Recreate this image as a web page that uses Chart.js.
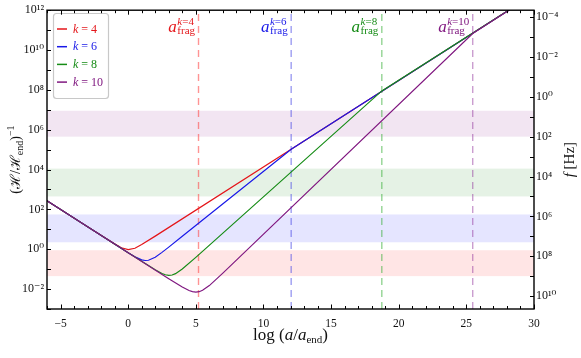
<!DOCTYPE html>
<html>
<head>
<meta charset="utf-8">
<script src="https://cdn.jsdelivr.net/npm/chart.js@4.4.1/dist/chart.umd.min.js"></script>
<style>
  html, body { margin: 0; padding: 0; background: #fff; }
</style>
</head>
<body>
<canvas id="fragChart" width="581" height="358"></canvas>
<script>
// values
const kValues = [4, 6, 8, 10];

const xK4 = [-6, -3, -1, -0.5, 0, 0.5, 1, 2, 12.05, 30];
const yK4 = [269, 13.4, 1.86, 1.19, 0.955, 1.12, 1.71, 4.55, 1.05e5, 6.46e12];

const xK6 = [-6, -3, -1, 0, 0.5, 1, 1.25, 1.5, 2, 2.5, 3, 4, 12.05, 30];
const yK6 = [269, 13.4, 1.82, 0.674, 0.422, 0.294, 0.272, 0.280, 0.398, 0.697, 1.28, 4.46, 1.05e5, 6.46e12];

const xK8 = [-6, -3, 0, 1, 2, 2.5, 2.75, 3, 3.25, 3.5, 4, 5, 18.75, 30];
const yK8 = [269, 13.4, 0.670, 0.248, 0.0927, 0.0607, 0.0522, 0.0489, 0.0509, 0.0593, 0.101, 0.390, 8.91e7, 6.46e12];

const xK10 = [-6, -3, 0, 3, 4, 4.5, 4.75, 5, 5.25, 5.5, 6, 7, 25.47, 30];
const yK10 = [269, 13.4, 0.670, 0.0334, 0.0127, 0.00847, 0.00740, 0.00701, 0.00738, 0.00867, 0.0150, 0.0630, 6.76e10, 6.46e12];

// a_frag positions (log a/a_end) and frequency bands (Hz)
const fragX = [5.2, 12.05, 18.75, 25.47];
const bandLowHz = [5e7, 8e5, 4e3, 5];
const bandHighHz = [1e9, 2e7, 1e5, 100];

// axes
const xRange = [-6, 30];
const hubbleRange = [1e-3, 1e12];
const freqRange = [4.47e-5, 4.47e10];
const hubbleTickExp = [-3, -2, -1, 0, 1, 2, 3, 4, 5, 6, 7, 8, 9, 10, 11, 12];
const freqTickExp = [-4, -3, -2, -1, 0, 1, 2, 3, 4, 5, 6, 7, 8, 9, 10];

const SERIF = "'Liberation Serif', 'DejaVu Serif', serif";
const lineColors = ["rgb(228,22,26)", "rgb(24,24,232)", "rgb(22,140,22)", "rgb(128,24,128)"];
const dashColors = ["rgba(255,60,60,0.55)", "rgba(60,60,230,0.5)", "rgba(40,170,40,0.5)", "rgba(140,40,150,0.45)"];
const bandColors = ["rgba(255,0,0,0.1)", "rgba(0,0,255,0.1)", "rgba(0,128,0,0.1)", "rgba(128,0,128,0.1)"];

const SUP = { "-": "⁻", "0": "⁰", "1": "¹", "2": "²", "3": "³", "4": "⁴", "5": "⁵", "6": "⁶", "7": "⁷", "8": "⁸", "9": "⁹" };

function powLabel(value) {
  const e = Math.round(Math.log10(value));
  if (e % 2 !== 0) return "";
  return "10" + String(e).split("").map(c => SUP[c]).join("");
}

function toPoints(xs, ys) {
  return xs.map((x, i) => ({ x: x, y: ys[i] }));
}

function measureRich(ctx, parts) {
  let total = 0;
  parts.forEach(p => {
    ctx.font = p.font;
    p.w = ctx.measureText(p.t).width;
    total += p.w;
  });
  return total;
}

function drawRich(ctx, parts, x, y, align) {
  const total = measureRich(ctx, parts);
  let cx = align === "center" ? x - total / 2 : align === "right" ? x - total : x;
  parts.forEach(p => {
    ctx.font = p.font;
    ctx.fillText(p.t, cx, y + (p.dy || 0));
    cx += p.w;
  });
  return total;
}

const bandsPlugin = {
  id: "bands",
  beforeDatasetsDraw(chart) {
    const { ctx, chartArea: a, scales } = chart;
    ctx.save();
    ctx.beginPath();
    ctx.rect(a.left, a.top, a.right - a.left, a.bottom - a.top);
    ctx.clip();

    bandLowHz.forEach((lo, i) => {
      const y1 = scales.yf.getPixelForValue(lo);
      const y2 = scales.yf.getPixelForValue(bandHighHz[i]);
      ctx.fillStyle = bandColors[i];
      ctx.fillRect(a.left, Math.min(y1, y2), a.right - a.left, Math.abs(y2 - y1));
    });

    ctx.lineWidth = 1.4;
    ctx.setLineDash([7, 5]);
    fragX.forEach((fx, i) => {
      const px = scales.x.getPixelForValue(fx);
      ctx.strokeStyle = dashColors[i];
      ctx.beginPath();
      ctx.moveTo(px, a.bottom);
      ctx.lineTo(px, a.top);
      ctx.stroke();
    });
    ctx.setLineDash([]);

    // a_frag^{k=..} labels
    ctx.textBaseline = "alphabetic";
    fragX.forEach((fx, i) => {
      const px = scales.x.getPixelForValue(fx);
      const supParts = [
        { t: "k", font: `italic 11px ${SERIF}` },
        { t: "=" + kValues[i], font: `11px ${SERIF}` }
      ];
      const subParts = [{ t: "frag", font: `11px ${SERIF}` }];
      ctx.font = `italic 17px ${SERIF}`;
      const aW = ctx.measureText("a").width;
      const supW = measureRich(ctx, supParts);
      const subW = measureRich(ctx, subParts);
      const start = px - 4 - aW - Math.max(supW, subW);
      ctx.fillStyle = lineColors[i];
      ctx.font = `italic 17px ${SERIF}`;
      ctx.fillText("a", start, 32);
      drawRich(ctx, supParts, start + aW + 0.5, 24.5, "left");
      drawRich(ctx, subParts, start + aW + 0.5, 33.5, "left");
    });
    ctx.restore();
  }
};

const legendPlugin = {
  id: "boxLegend",
  afterDatasetsDraw(chart) {
    const ctx = chart.ctx;
    ctx.save();
    ctx.fillStyle = "rgba(255,255,255,0.9)";
    ctx.strokeStyle = "#c8c8c8";
    ctx.lineWidth = 1.2;
    ctx.beginPath();
    ctx.roundRect(53.5, 13.5, 55, 85, 3);
    ctx.fill();
    ctx.stroke();

    ctx.textBaseline = "middle";
    chart.data.datasets.forEach((ds, i) => {
      const y = 29 + i * 17.7;
      ctx.strokeStyle = ds.borderColor;
      ctx.lineWidth = 1.5;
      ctx.beginPath();
      ctx.moveTo(57, y);
      ctx.lineTo(67, y);
      ctx.stroke();
      ctx.fillStyle = ds.borderColor;
      drawRich(ctx, [
        { t: "k", font: `italic 12px ${SERIF}` },
        { t: " = " + kValues[i], font: `12px ${SERIF}` }
      ], 73, y + 0.5, "left");
    });
    ctx.restore();
  }
};

const framePlugin = {
  id: "frame",
  afterDraw(chart) {
    const { ctx, chartArea: a, scales } = chart;
    ctx.save();
    ctx.strokeStyle = "#000";
    ctx.lineWidth = 1;
    ctx.beginPath();
    scales.x.ticks.forEach(t => {
      const px = Math.round(scales.x.getPixelForValue(t.value)) + 0.5;
      const len = t.value % 5 === 0 ? 4.5 : 3;
      ctx.moveTo(px, a.bottom);
      ctx.lineTo(px, a.bottom - len);
      ctx.moveTo(px, a.top);
      ctx.lineTo(px, a.top + len);
    });
    scales.y.ticks.forEach(t => {
      const py = Math.round(scales.y.getPixelForValue(t.value)) + 0.5;
      ctx.moveTo(a.left, py);
      ctx.lineTo(a.left + 4, py);
    });
    scales.yf.ticks.forEach(t => {
      const py = Math.round(scales.yf.getPixelForValue(t.value)) + 0.5;
      ctx.moveTo(a.right, py);
      ctx.lineTo(a.right - 4, py);
    });
    ctx.stroke();
    ctx.lineWidth = 1.4;
    ctx.strokeRect(a.left, a.top, a.right - a.left, a.bottom - a.top);

    // axis titles
    ctx.fillStyle = "#111";
    ctx.textBaseline = "alphabetic";
    drawRich(ctx, [
      { t: "log ", font: `17px ${SERIF}` },
      { t: "(", font: `17px ${SERIF}` },
      { t: "a", font: `italic 17px ${SERIF}` },
      { t: "/", font: `17px ${SERIF}` },
      { t: "a", font: `italic 17px ${SERIF}` },
      { t: "end", font: `11px ${SERIF}`, dy: 3 },
      { t: ")", font: `17px ${SERIF}` }
    ], (a.left + a.right) / 2, 340, "center");

    ctx.save();
    ctx.translate(20, (a.top + a.bottom) / 2);
    ctx.rotate(-Math.PI / 2);
    drawRich(ctx, [
      { t: "(ℋ/ℋ", font: `14px ${SERIF}` },
      { t: "end", font: `10px ${SERIF}`, dy: 3 },
      { t: ")", font: `14px ${SERIF}` },
      { t: "−1", font: `10px ${SERIF}`, dy: -6 }
    ], 0, 0, "center");
    ctx.restore();

    ctx.save();
    ctx.translate(574, (a.top + a.bottom) / 2);
    ctx.rotate(-Math.PI / 2);
    drawRich(ctx, [
      { t: "f", font: `italic 15px ${SERIF}` },
      { t: " [Hz]", font: `15px ${SERIF}` }
    ], 0, 0, "center");
    ctx.restore();

    ctx.restore();
  }
};

const datasets = [
  [xK4, yK4], [xK6, yK6], [xK8, yK8], [xK10, yK10]
].map((s, i) => ({
  label: "k = " + kValues[i],
  data: toPoints(s[0], s[1]),
  borderColor: lineColors[i],
  backgroundColor: lineColors[i],
  borderWidth: 1.2,
  pointRadius: 0,
  tension: 0,
  order: 4 - i,
  yAxisID: "y"
}));

const tickFont = { family: SERIF, size: 12 };

new Chart(document.getElementById("fragChart"), {
  type: "line",
  data: { datasets: datasets },
  options: {
    responsive: false,
    animation: false,
    events: [],
    layout: { padding: { top: 8, left: 0, right: 0, bottom: 0 } },
    plugins: {
      legend: { display: false },
      tooltip: { enabled: false }
    },
    scales: {
      x: {
        type: "linear",
        min: xRange[0],
        max: xRange[1],
        grid: { display: false, drawTicks: false },
        border: { display: false },
        afterFit: scale => { scale.height = 49; },
        ticks: {
          stepSize: 1,
          autoSkip: false,
          maxRotation: 0,
          padding: 8,
          color: "#111",
          font: { family: SERIF, size: 11.5 },
          callback: v => (v % 5 === 0 ? String(v).replace("-", "−") : "")
        }
      },
      y: {
        type: "logarithmic",
        position: "left",
        min: hubbleRange[0],
        max: hubbleRange[1],
        grid: { display: false, drawTicks: false },
        border: { display: false },
        afterFit: scale => { scale.width = 47; },
        afterBuildTicks: scale => {
          scale.ticks = hubbleTickExp.map(e => ({ value: Math.pow(10, e) }));
        },
        ticks: {
          autoSkip: false,
          padding: 3,
          color: "#111",
          font: tickFont,
          callback: v => powLabel(v)
        }
      },
      yf: {
        type: "logarithmic",
        position: "right",
        reverse: true,
        min: freqRange[0],
        max: freqRange[1],
        grid: { display: false, drawTicks: false },
        border: { display: false },
        afterFit: scale => { scale.width = 47; },
        afterBuildTicks: scale => {
          scale.ticks = freqTickExp.map(e => ({ value: Math.pow(10, e) }));
        },
        ticks: {
          autoSkip: false,
          padding: 2,
          color: "#111",
          font: tickFont,
          callback: v => powLabel(v)
        }
      }
    }
  },
  plugins: [bandsPlugin, legendPlugin, framePlugin]
});
</script>
</body>
</html>
